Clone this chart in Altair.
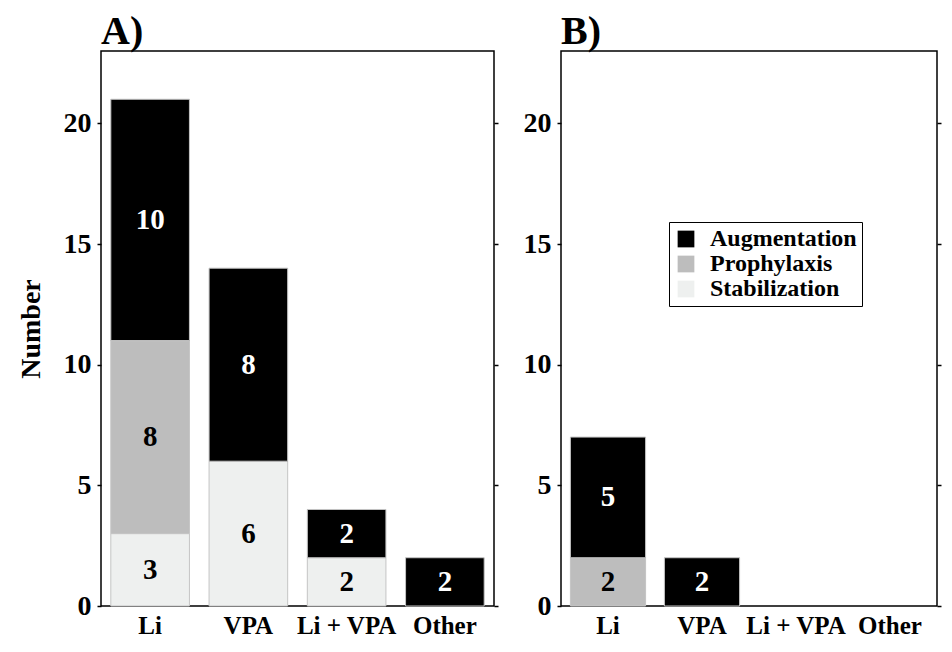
import altair as alt
import pandas as pd

drugs = ["Li", "VPA", "Li + VPA", "Other"]
types = ["Augmentation", "Prophylaxis", "Stabilization"]
colors = ["#000000", "#bdbdbd", "#eef0ef"]
stack_rank = [2, 1, 0]

a_aug = [10, 8, 2, 2]
a_pro = [8, 0, 0, 0]
a_sta = [3, 6, 2, 0]

b_aug = [5, 2, 0, 0]
b_pro = [2, 0, 0, 0]
b_sta = [0, 0, 0, 0]

y_ticks = [0, 5, 10, 15, 20]
FONT = "Liberation Serif"


def to_long(aug, pro, sta):
    rows = []
    for i, d in enumerate(drugs):
        for t, vals, r in zip(types, [aug, pro, sta], stack_rank):
            rows.append({"drug": d, "type": t, "value": vals[i], "rank": r})
    return pd.DataFrame(rows)


def panel(df, title, first, width):
    base = (
        alt.Chart(df)
        .transform_filter("datum.value > 0")
        .transform_stack(
            stack="value",
            groupby=["drug"],
            as_=["y0", "y1"],
            sort=[alt.SortField("rank", order="ascending")],
        )
        .transform_calculate(mid="(datum.y0 + datum.y1) / 2")
    )
    xscale = alt.Scale(domain=drugs, paddingInner=0.2, paddingOuter=0.1)
    x = alt.X(
        "drug:N",
        scale=xscale,
        axis=alt.Axis(
            title=None, labelAngle=0, ticks=False, domain=False,
            labelPadding=7, labelFontSize=25, labelFont=FONT,
            labelFontWeight="bold", labelColor="black",
        ),
    )
    yscale = alt.Scale(domain=[0, 23], nice=False, zero=True)
    if first:
        legend = None
    else:
        legend = alt.Legend(
            title=None, orient="none", legendX=108, legendY=171,
            strokeColor="black", fillColor="white", padding=5,
            labelFont=FONT, labelFontSize=24, labelFontWeight="bold",
            labelColor="black", symbolType="square", symbolSize=280,
            symbolStrokeWidth=0, rowPadding=1, cornerRadius=0,
            labelOffset=12,
        )
    bars = base.mark_bar(stroke="#c4c4c4", strokeWidth=1).encode(
        x=x,
        y=alt.Y(
            "y0:Q", scale=yscale,
            axis=alt.Axis(
                values=y_ticks, title="Number" if first else None,
                titleFont=FONT, titleFontSize=28, titleFontWeight="bold",
                titleColor="black", titlePadding=18,
                labelFont=FONT, labelFontSize=28, labelFontWeight="bold",
                labelColor="black", labelPadding=6, tickSize=4,
                tickColor="black", tickWidth=1.5, grid=False, domain=False,
            ),
        ),
        y2="y1:Q",
        color=alt.Color("type:N", scale=alt.Scale(domain=types, range=colors), legend=legend),
        order=alt.Order("rank:Q", sort="ascending"),
    )
    labels = base.mark_text(font=FONT, fontSize=29, fontWeight="bold", baseline="middle").encode(
        x=alt.X("drug:N", scale=xscale),
        y=alt.Y(
            "mid:Q", scale=yscale,
            axis=alt.Axis(
                orient="right", values=y_ticks, title=None, labels=False,
                tickSize=4, tickColor="black", tickWidth=1.5, grid=False, domain=False,
            ),
        ),
        text="value:Q",
        color=alt.condition(alt.datum.type == "Augmentation", alt.value("white"), alt.value("black")),
    )
    return (
        alt.layer(bars, labels)
        .resolve_scale(y="shared")
        .resolve_axis(y="independent")
        .properties(
            width=width, height=555,
            title=alt.TitleParams(
                title, anchor="start", frame="group", font=FONT, fontSize=40,
                fontWeight="bold", color="black", offset=-1,
            ),
        )
    )


chart_a = panel(to_long(a_aug, a_pro, a_sta), "A)", True, 393)
chart_b = panel(to_long(b_aug, b_pro, b_sta), "B)", False, 376)

chart = (
    alt.hconcat(chart_a, chart_b, spacing=22)
    .resolve_scale(color="independent")
    .configure_view(stroke="black", strokeWidth=1.5)
    .properties(padding={"left": 8, "top": 3, "right": 0, "bottom": 0}, background="white")
)

chart.save("out.html", embed_options={"renderer": "svg", "actions": False})
